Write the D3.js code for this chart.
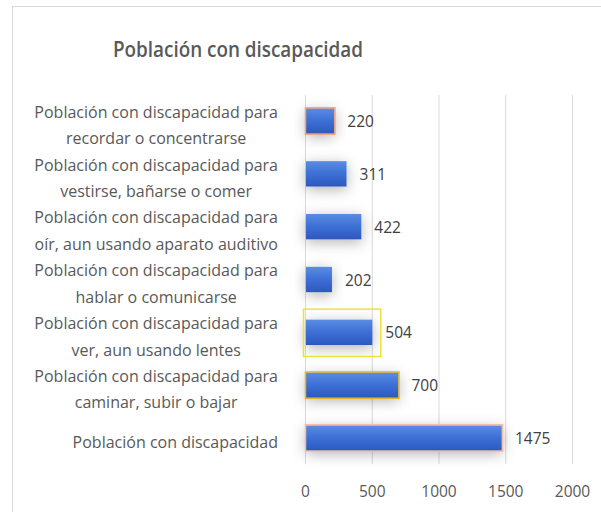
<!DOCTYPE html>
<html>
<head>
<meta charset="utf-8">
<script src="https://cdn.jsdelivr.net/npm/d3@7"></script>
<style>
  body { margin: 0; background: #fff; }
  text { font-family: "Open Sans", sans-serif; }
</style>
</head>
<body>
<div id="chart"></div>
<script>
// datos
var categories = [
	["Población con discapacidad para", "recordar o concentrarse"],
	["Población con discapacidad para", "vestirse, bañarse o comer"],
	["Población con discapacidad para", "oír, aun usando aparato auditivo"],
	["Población con discapacidad para", "hablar o comunicarse"],
	["Población con discapacidad para", "ver, aun usando lentes"],
	["Población con discapacidad para", "caminar, subir o bajar"],
	["Población con discapacidad"]
]
var values = [220, 311, 422, 202, 504, 700, 1475]
var ticks = [0, 500, 1000, 1500, 2000]
var title = "Población con discapacidad"

// bordes raros de cada barra (estilo)
var outlineColors = ["#eea27a", null, null, null, "#eee23a", "#e2b52a", "#f2bca6"]

var width = 601
var height = 512

var svg = d3.select("#chart")
			.append("svg")
			.attr("width", width)
			.attr("height", height)

var defs = svg.append("defs")
var grad = defs.append("linearGradient")
			.attr("id", "barGrad")
			.attr("x1", 0).attr("y1", 0).attr("x2", 0).attr("y2", 1)
grad.append("stop").attr("offset", "0%").attr("stop-color", "#5b8ce2")
grad.append("stop").attr("offset", "45%").attr("stop-color", "#3f72d8")
grad.append("stop").attr("offset", "100%").attr("stop-color", "#2c58bd")

var shadow = defs.append("filter")
			.attr("id", "shadow")
			.attr("x", "-40%").attr("y", "-120%")
			.attr("width", "180%").attr("height", "340%")
shadow.append("feDropShadow")
	.attr("dx", 0).attr("dy", 3)
	.attr("stdDeviation", 7)
	.attr("flood-color", "#000")
	.attr("flood-opacity", 0.3)

// marco
svg.append("rect")
	.attr("x", 12.5).attr("y", 6.5)
	.attr("width", 600).attr("height", 520)
	.attr("fill", "none")
	.attr("stroke", "#d9d9d9")

svg.append("text")
	.attr("x", 238)
	.attr("y", 57)
	.attr("text-anchor", "middle")
	.attr("font-size", 21)
	.attr("font-weight", 600)
	.attr("fill", "#595959")
	.attr("textLength", 250)
	.attr("lengthAdjust", "spacingAndGlyphs")
	.text(title)

var x = d3.scaleLinear()
		.domain([0, 2000])
		.range([305, 572])

var y = d3.scaleBand()
		.domain(d3.range(values.length))
		.range([94.6, 464.4])
		.paddingInner(0.52)
		.paddingOuter(0.26)

// rejilla
svg.append("g")
	.selectAll("line")
	.data(ticks)
	.enter()
	.append("line")
	.attr("x1", function(d) { return x(d) + 0.5 })
	.attr("x2", function(d) { return x(d) + 0.5 })
	.attr("y1", 95)
	.attr("y2", 464)
	.attr("stroke", "#d9d9d9")

// eje x
var xAxis = svg.append("g")
		.attr("transform", "translate(0,464)")
		.call(d3.axisBottom(x).tickValues(ticks).tickFormat(d3.format("d")).tickSize(0).tickPadding(22))
xAxis.select(".domain").remove()
xAxis.selectAll("text")
	.attr("font-size", 15.5)
	.attr("fill", "#595959")
	.style("font-family", "Open Sans, sans-serif")

// barras
var bars = svg.append("g")
bars.selectAll("rect")
	.data(values)
	.enter()
	.append("rect")
	.attr("x", x(0) + 1)
	.attr("y", function(d, i) { return y(i) })
	.attr("width", function(d) { return x(d) - x(0) - 1 })
	.attr("height", y.bandwidth())
	.attr("fill", "url(#barGrad)")
	.attr("filter", "url(#shadow)")

bars.selectAll(".outline")
	.data(values)
	.enter()
	.append("rect")
	.attr("class", "outline")
	.attr("x", function(d, i) { return i == 4 ? x(0) - 1.5 : x(0) + 0.5 })
	.attr("y", function(d, i) { return i == 4 ? y(i) - 10.5 : y(i) - 0.5 })
	.attr("width", function(d, i) { return i == 4 ? x(d) - x(0) + 10 : x(d) - x(0) })
	.attr("height", function(d, i) { return i == 4 ? y.bandwidth() + 22 : y.bandwidth() + 1 })
	.attr("fill", "none")
	.attr("stroke", function(d, i) { return outlineColors[i] || "none" })
	.attr("stroke-width", 1.5)

// etiquetas de valor
svg.append("g")
	.selectAll("text")
	.data(values)
	.enter()
	.append("text")
	.attr("x", function(d) { return x(d) + 13 })
	.attr("y", function(d, i) { return y(i) + y.bandwidth() / 2 + 6 })
	.attr("font-size", 15.5)
	.attr("fill", "#404040")
	.text(function(d) { return d })

// etiquetas de categoria (centradas, alineadas a la derecha del bloque)
var labelRight = 278
var lineH = 26.5
categories.forEach(function(lines, i) {
	var g = svg.append("text")
			.attr("font-size", 16)
			.attr("fill", "#595959")
			.attr("text-anchor", "middle")
	var cy = y(i) + y.bandwidth() / 2 + 5
	var top = cy - (lines.length - 1) * lineH / 2
	lines.forEach(function(t, j) {
		g.append("tspan")
			.attr("y", top + j * lineH + 5)
			.text(t)
	})
	var maxW = 0
	g.selectAll("tspan").each(function() {
		maxW = Math.max(maxW, this.getComputedTextLength())
	})
	g.selectAll("tspan").attr("x", labelRight - maxW / 2)
})
</script>
</body>
</html>
